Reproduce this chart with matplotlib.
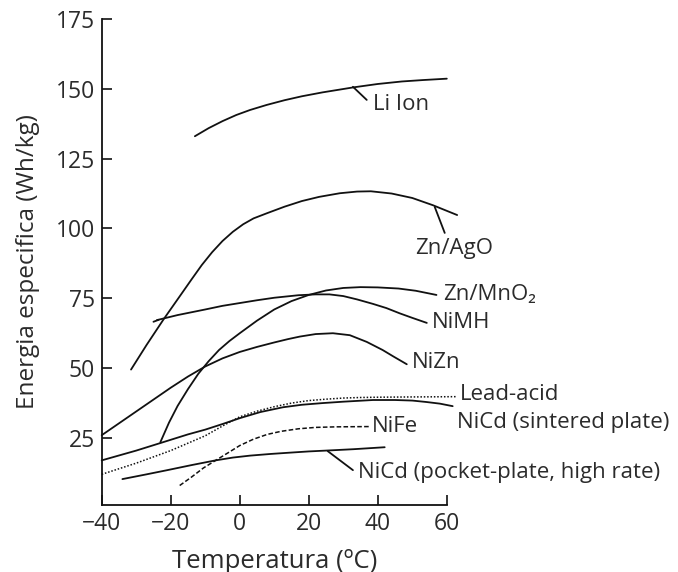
import matplotlib
matplotlib.use("Agg")
import matplotlib.pyplot as plt

plt.rcParams['font.family'] = ['Open Sans', 'DejaVu Sans']

# Data (temperature in ºC, specific energy in Wh/kg)
li_x = [-13, -9, -5, -1, 3, 7.8, 13, 18, 24, 29, 33, 40, 47, 53, 60]
li_y = [133, 135.9, 138.4, 140.6, 142.4, 144.2, 145.9, 147.3, 148.7, 149.7, 150.5, 151.7, 152.6, 153.1, 153.6]

znago_x = [-31.5, -27, -22, -17, -14, -11, -8, -5, -2, 1, 4, 8, 13, 18, 23, 29, 34, 38, 44, 50, 56, 63]
znago_y = [49.5, 58.3, 67.6, 76.4, 81.7, 86.9, 91.5, 95.5, 98.8, 101.5, 103.6, 105.5, 107.8, 109.8, 111.3, 112.6, 113.2, 113.3, 112.5, 110.9, 108.3, 104.8]

znmno2_x = [-23, -20.5, -18, -15, -12, -9, -6, -3, 0, 5, 10, 15, 20, 25, 30, 35, 40, 46, 51, 57]
znmno2_y = [23.5, 30.5, 36.5, 42.5, 48, 52.5, 56.5, 59.7, 62.5, 67, 71, 74, 76.2, 77.8, 78.7, 79, 78.9, 78.5, 77.7, 76.2]

nimh_x = [-24, -18, -10, -5, 0, 5, 10, 17, 22, 26, 30, 34, 38.6, 42.5, 46.4, 50, 54.2]
nimh_y = [67.2, 69, 71, 72.3, 73.3, 74.3, 75.2, 76.1, 76.4, 76.4, 75.8, 74.6, 73, 71.5, 69.6, 68, 66.2]

nizn_x = [-40, -30, -20, -15, -10, -5, 0, 5, 10, 14, 17.4, 22, 27, 31.9, 36.8, 41.4, 44.5, 48.4]
nizn_y = [26, 34.5, 43, 47, 50.6, 53.5, 55.8, 57.6, 59.2, 60.4, 61.3, 62.2, 62.5, 61.8, 59.4, 56.5, 54.2, 51.4]

leadacid_x = [-40, -30, -20, -10, -5, 0, 5, 10, 15, 20, 25, 30, 35, 40, 50, 63]
leadacid_y = [12, 16, 20.5, 25.8, 29.3, 32.6, 34.6, 36.2, 37.5, 38.4, 38.9, 39.3, 39.5, 39.6, 39.7, 39.8]

nicd_s_x = [-40, -30, -23, -15, -10, -5, 0, 6, 12.5, 18, 24, 30, 38.6, 45, 50, 54, 58, 61.7]
nicd_s_y = [17, 20.5, 23.2, 26.3, 28, 30, 32.1, 34.3, 36, 36.9, 37.5, 38, 38.6, 38.6, 38.4, 37.9, 37.3, 36.4]

nife_x = [-17.4, -14, -10.5, -6.7, -3, 0, 4, 8, 12, 17, 22, 28, 38]
nife_y = [8, 11, 14.3, 17.2, 20, 22.3, 24.6, 26.3, 27.4, 28.3, 28.8, 29, 29.1]

nicd_p_x = [-34, -27, -21, -14, -7, -2, 3, 9, 15, 20, 25, 33, 42]
nicd_p_y = [10.3, 12, 13.5, 15.3, 17, 18, 18.7, 19.3, 19.8, 20.2, 20.5, 21, 21.7]

labels = ["Li Ion", "Zn/AgO", "Zn/MnO₂", "NiMH", "NiZn", "Lead-acid",
          "NiCd (sintered plate)", "NiFe", "NiCd (pocket-plate, high rate)"]
label_x = [38.6, 50.7, 58.8, 55.7, 49.9, 63.8, 62.9, 38.3, 34.2]
label_y = [144.2, 93, 76.2, 66.2, 51.9, 40.4, 30.7, 29, 12.8]

x_ticks = [-40, -20, 0, 20, 40, 60]
y_ticks = [25, 50, 75, 100, 125, 150, 175]

fig = plt.figure(figsize=(6.78, 5.72), dpi=100)
ax = fig.add_axes([0.150, 0.117, 0.509, 0.850])

ink = '#111111'
kw = dict(color=ink, lw=1.3, clip_on=False, solid_capstyle='round', solid_joinstyle='round')
for xs, ys in [(li_x, li_y), (znago_x, znago_y), (znmno2_x, znmno2_y),
               (nimh_x, nimh_y), (nizn_x, nizn_y), (nicd_s_x, nicd_s_y),
               (nicd_p_x, nicd_p_y)]:
    ax.plot(xs, ys, **kw)

ax.plot(leadacid_x, leadacid_y, color=ink, lw=1.1, ls=(0, (1, 1.2)), clip_on=False)
ax.plot(nife_x, nife_y, color=ink, lw=1.1, ls=(0, (3, 1.5)), clip_on=False)

# leader lines
ax.plot([32.8, 36.8], [150.7, 146], **kw)
ax.plot([56.5, 59.4], [107.7, 98.4], **kw)
ax.plot([25.5, 32.8], [20.3, 13.5], **kw)
ax.plot([-25, -23.5], [66.6, 67.3], **kw)

tc = '#2b2b2b'
for lab, lx, ly in zip(labels, label_x, label_y):
    ax.text(lx, ly, lab, fontsize=16, color=tc, ha='left', va='center', clip_on=False)

ax.set_xlim(-40, 60)
ax.set_ylim(1, 175)
ax.set_xticks(x_ticks)
ax.set_yticks(y_ticks)
ax.tick_params(direction='in', length=7, width=1.2, labelsize=16.5, colors=ink,
               labelcolor=tc, pad=5)
for s in ['top', 'right']:
    ax.spines[s].set_visible(False)
for s in ['left', 'bottom']:
    ax.spines[s].set_linewidth(1.3)
    ax.spines[s].set_color(ink)

ax.set_xlabel('Temperatura (ºC)', fontsize=18.5, color=tc, labelpad=9)
ax.set_ylabel('Energia especifica (Wh/kg)', fontsize=17.5, color=tc, labelpad=11)

fig.savefig('out.png', dpi=100)
